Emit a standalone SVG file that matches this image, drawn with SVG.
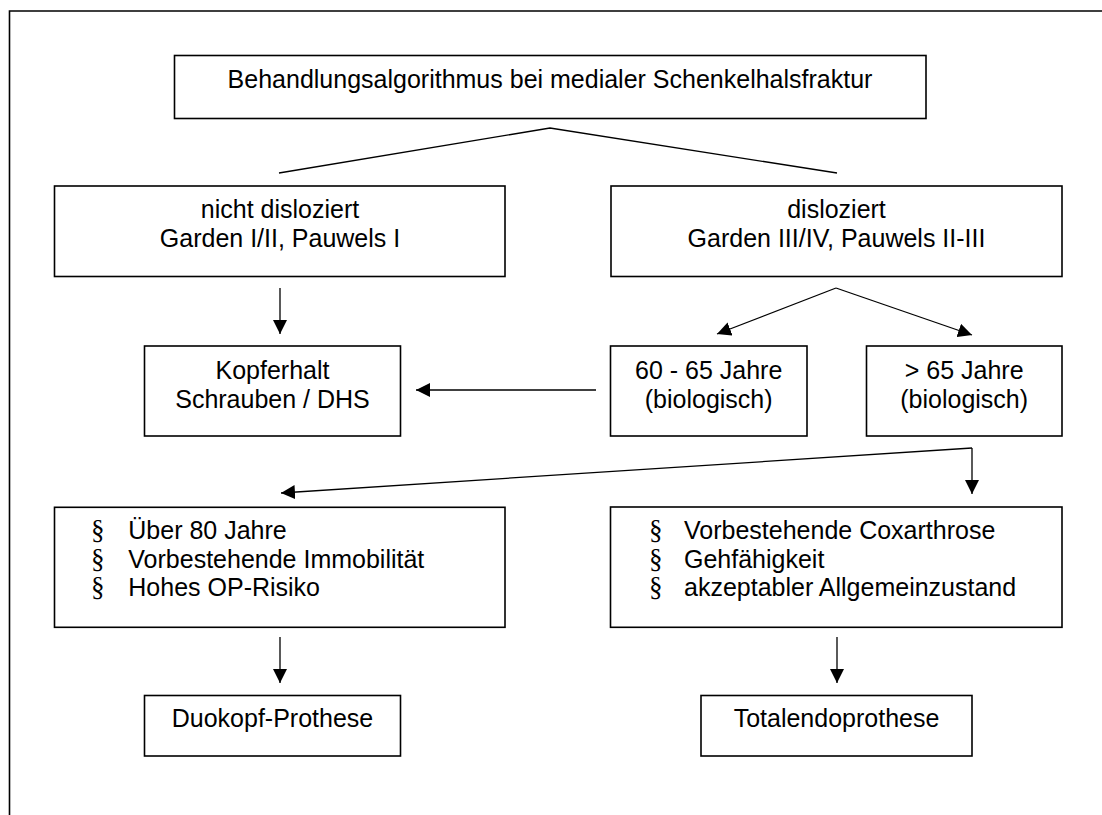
<svg xmlns="http://www.w3.org/2000/svg" width="1102" height="815" viewBox="0 0 1102 815">
<style>
.box{fill:#fff;stroke:#000;stroke-width:1.6}
.ln{fill:none;stroke:#000;stroke-width:1.3}
.t{font-family:"Liberation Sans",Arial,sans-serif;font-size:25px;fill:#000}
.c{text-anchor:middle}
.b{font-family:"Liberation Serif","Times New Roman",serif;font-size:27px;fill:#000}
</style>
<defs>
<marker id="ah" markerUnits="userSpaceOnUse" markerWidth="14" markerHeight="14" viewBox="0 0 14 14" refX="14" refY="7" orient="auto">
<path d="M0,0 L14,7 L0,14 z" fill="#000"/>
</marker>
</defs>
<rect width="1102" height="815" fill="#fff"/>
<path d="M9.5,815 V11 H1102" fill="none" stroke="#000" stroke-width="1.6"/>

<g id="connectors">
<polyline class="ln" points="279,173 550,128 837,173"/>
<line class="ln" x1="280" y1="288" x2="280" y2="334" marker-end="url(#ah)"/>
<line class="ln" x1="836" y1="288" x2="717" y2="334" marker-end="url(#ah)"/>
<line class="ln" x1="836" y1="288" x2="972" y2="335" marker-end="url(#ah)"/>
<line class="ln" x1="596" y1="390" x2="416" y2="390" marker-end="url(#ah)"/>
<line class="ln" x1="972" y1="448" x2="972" y2="494" marker-end="url(#ah)"/>
<line class="ln" x1="972" y1="448" x2="281" y2="493" marker-end="url(#ah)"/>
<line class="ln" x1="280" y1="637" x2="280" y2="683" marker-end="url(#ah)"/>
<line class="ln" x1="837" y1="637" x2="837" y2="683" marker-end="url(#ah)"/>
</g>

<g id="title">
<rect class="box" x="174.5" y="55.5" width="751.5" height="63"/>
<text class="t c" x="550" y="88">Behandlungsalgorithmus bei medialer Schenkelhalsfraktur</text>
</g>

<g id="nicht-disloziert">
<rect class="box" x="54.5" y="186" width="450.5" height="90.5"/>
<text class="t c" x="280" y="218">nicht disloziert</text>
<text class="t c" x="280" y="246.5">Garden I/II, Pauwels I</text>
</g>

<g id="disloziert">
<rect class="box" x="611" y="186" width="451" height="90.5"/>
<text class="t c" x="836.5" y="218">disloziert</text>
<text class="t c" x="836.5" y="246.5">Garden III/IV, Pauwels II-III</text>
</g>

<g id="kopferhalt">
<rect class="box" x="144.5" y="346" width="256" height="90"/>
<text class="t c" x="272.5" y="379">Kopferhalt</text>
<text class="t c" x="272.5" y="407.5">Schrauben / DHS</text>
</g>

<g id="age-60-65">
<rect class="box" x="610.5" y="346" width="196.5" height="90"/>
<text class="t c" x="708.7" y="379">60 - 65 Jahre</text>
<text class="t c" x="708.7" y="407.5">(biologisch)</text>
</g>

<g id="age-over-65">
<rect class="box" x="866.5" y="346" width="195.5" height="90"/>
<text class="t c" x="964.2" y="379">&gt; 65 Jahre</text>
<text class="t c" x="964.2" y="407.5">(biologisch)</text>
</g>

<g id="criteria-left">
<rect class="box" x="54.5" y="507.3" width="450.5" height="120"/>
<text class="b" x="91" y="539.3">§</text>
<text class="b" x="91" y="567.7">§</text>
<text class="b" x="91" y="596">§</text>
<text class="t" x="128.3" y="539.3">Über 80 Jahre</text>
<text class="t" x="128.3" y="567.7">Vorbestehende Immobilität</text>
<text class="t" x="128.3" y="596">Hohes OP-Risiko</text>
</g>

<g id="criteria-right">
<rect class="box" x="610.5" y="507" width="451.5" height="120.3"/>
<text class="b" x="649" y="539.3">§</text>
<text class="b" x="649" y="567.7">§</text>
<text class="b" x="649" y="596">§</text>
<text class="t" x="684" y="539.3">Vorbestehende Coxarthrose</text>
<text class="t" x="684" y="567.7">Gehfähigkeit</text>
<text class="t" x="684" y="596">akzeptabler Allgemeinzustand</text>
</g>

<g id="duokopf">
<rect class="box" x="144.5" y="695.5" width="256" height="60.5"/>
<text class="t c" x="272.5" y="727.3">Duokopf-Prothese</text>
</g>

<g id="tep">
<rect class="box" x="701" y="695.5" width="271" height="60.5"/>
<text class="t c" x="836.5" y="727.3">Totalendoprothese</text>
</g>
</svg>
